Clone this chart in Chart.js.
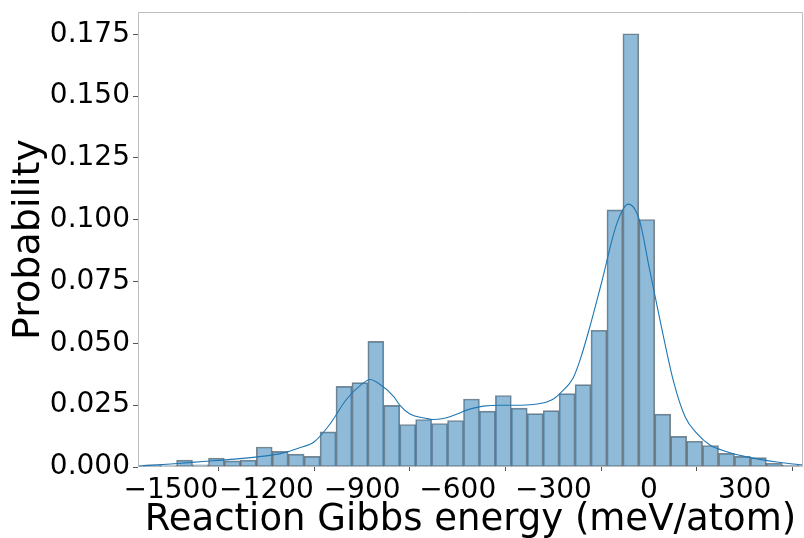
<!DOCTYPE html>
<html>
<head>
<meta charset="utf-8">
<script src="https://cdn.jsdelivr.net/npm/chart.js@4.4.1/dist/chart.umd.min.js"></script>
<style>
  html, body { margin: 0; padding: 0; background: #ffffff; }
  #wrap { width: 804px; height: 538px; }
</style>
</head>
<body>
<div id="wrap"><canvas id="c" width="804" height="538"></canvas></div>
<script>
// Histogram bin centres (meV/atom), bin width 50
const binCenters = [-1607, -1557, -1507, -1457, -1407, -1357, -1307, -1257, -1207, -1157,
  -1107, -1057, -1007, -957, -907, -857, -807, -757, -707, -657,
  -607, -557, -507, -457, -407, -357, -307, -257, -207, -157,
  -107, -57, -7, 43, 93, 143, 193, 243, 293, 343,
  393, 443, 493];
// Probability per bin
const probabilities = [0.0005, 0.0009, 0.0006, 0.0028, 0.0009, 0.0036, 0.0025, 0.0028, 0.0081, 0.0063,
  0.0052, 0.0043, 0.0142, 0.0326, 0.0341, 0.0508, 0.0249, 0.0172, 0.0192, 0.0176,
  0.0188, 0.0275, 0.0226, 0.0289, 0.0238, 0.0216, 0.0228, 0.0297, 0.0333, 0.0553,
  0.1040, 0.1752, 0.1001, 0.0214, 0.0124, 0.0104, 0.0087, 0.0055, 0.0043, 0.0038,
  0.0015, 0.0008, 0.0006];
// KDE curve samples
const kdeX = [-1603, -1500, -1400, -1300, -1200, -1150, -1100, -1050, -1000, -950,
  -900, -875, -850, -800, -782, -750, -700, -677, -650, -625,
  -600, -572, -550, -520, -468, -415, -363, -321, -300, -279,
  -238, -217, -187, -150, -101, -65, -30, 0, 40, 76,
  113, 150, 191, 244, 296, 348, 401, 452, 487];
const kdeY = [0.0004, 0.0012, 0.0022, 0.0032, 0.0045, 0.0056, 0.0076, 0.0102, 0.0175, 0.0272,
  0.0336, 0.0354, 0.0340, 0.0284, 0.0250, 0.0214, 0.0197, 0.0192, 0.0195, 0.0203,
  0.0215, 0.0230, 0.0238, 0.0246, 0.0250, 0.0250, 0.0253, 0.0263, 0.0275, 0.0298,
  0.0360, 0.0430, 0.0560, 0.0740, 0.0984, 0.1063, 0.0998, 0.0810, 0.0560, 0.0350,
  0.0203, 0.0136, 0.0089, 0.0062, 0.0044, 0.0031, 0.0020, 0.0012, 0.0008];
const xTicks = [-1500, -1200, -900, -600, -300, 0, 300];
const yTicks = [0, 0.025, 0.05, 0.075, 0.1, 0.125, 0.15, 0.175];
const xLabel = 'Reaction Gibbs energy (meV/atom)';
const yLabel = 'Probability';

const barData = binCenters.map((x, i) => ({x: x, y: probabilities[i]}));
const kdeData = kdeX.map((x, i) => ({x: x, y: kdeY[i]}));

const framePlugin = {
  id: 'frame',
  afterDraw(chart) {
    const {ctx, chartArea: a} = chart;
    ctx.save();
    ctx.strokeStyle = '#bdbdbd';
    ctx.lineWidth = 1;
    ctx.beginPath();
    ctx.moveTo(a.left + 0.5, a.bottom);
    ctx.lineTo(a.left + 0.5, a.top + 0.5);
    ctx.lineTo(a.right - 0.5, a.top + 0.5);
    ctx.lineTo(a.right - 0.5, a.bottom);
    ctx.stroke();
    ctx.restore();
  }
};

const fam = '"DejaVu Sans", sans-serif';

new Chart(document.getElementById('c'), {
  data: {
    datasets: [
      {
        type: 'bar',
        data: barData,
        backgroundColor: 'rgba(31,119,180,0.5)',
        borderColor: 'rgba(45,55,65,0.6)',
        borderWidth: 1,
        borderSkipped: false,
        barPercentage: 1.0,
        categoryPercentage: 1.0,
        order: 2
      },
      {
        type: 'line',
        data: kdeData,
        borderColor: '#1f77b4',
        borderWidth: 1.1,
        pointRadius: 0,
        fill: false,
        cubicInterpolationMode: 'monotone',
        order: 1
      }
    ]
  },
  options: {
    responsive: false,
    animation: false,
    layout: { padding: { top: 12, right: 1, left: 0, bottom: 0 } },
    plugins: { legend: { display: false }, tooltip: { enabled: false } },
    scales: {
      x: {
        type: 'linear',
        min: -1603,
        max: 483,
        offset: false,
        afterBuildTicks(s) { s.ticks = xTicks.map(v => ({value: v})); },
        afterFit(s) { s.height = 71; s.paddingLeft = 0; s.paddingRight = 0; },
        grid: { display: true, drawOnChartArea: false, drawTicks: true, tickLength: 4, color: '#555555' },
        border: { display: false },
        ticks: {
          autoSkip: false,
          maxRotation: 0,
          minRotation: 0,
          padding: 3,
          color: '#000000',
          font: { family: fam, size: 28 },
          callback: (v) => (v < 0 ? '\u2212' + Math.abs(v) : String(v))
        },
        title: {
          display: true,
          text: xLabel,
          color: '#000000',
          font: { family: fam, size: 37 },
          padding: { top: 0, bottom: -5 }
        }
      },
      y: {
        type: 'linear',
        min: 0,
        max: 0.184,
        afterBuildTicks(s) { s.ticks = yTicks.map(v => ({value: v})); },
        afterFit(s) { s.width = 138; s.paddingTop = 0; s.paddingBottom = 0; },
        grid: { display: true, drawOnChartArea: false, drawTicks: true, tickLength: 5, color: '#555555' },
        border: { display: false },
        ticks: {
          autoSkip: false,
          padding: 3,
          color: '#000000',
          font: { family: fam, size: 28 },
          callback: (v) => v.toFixed(3)
        },
        title: {
          display: true,
          text: yLabel,
          color: '#000000',
          font: { family: fam, size: 38 },
          padding: { top: 6, bottom: 0 }
        }
      }
    }
  },
  plugins: [framePlugin]
});
</script>
</body>
</html>
